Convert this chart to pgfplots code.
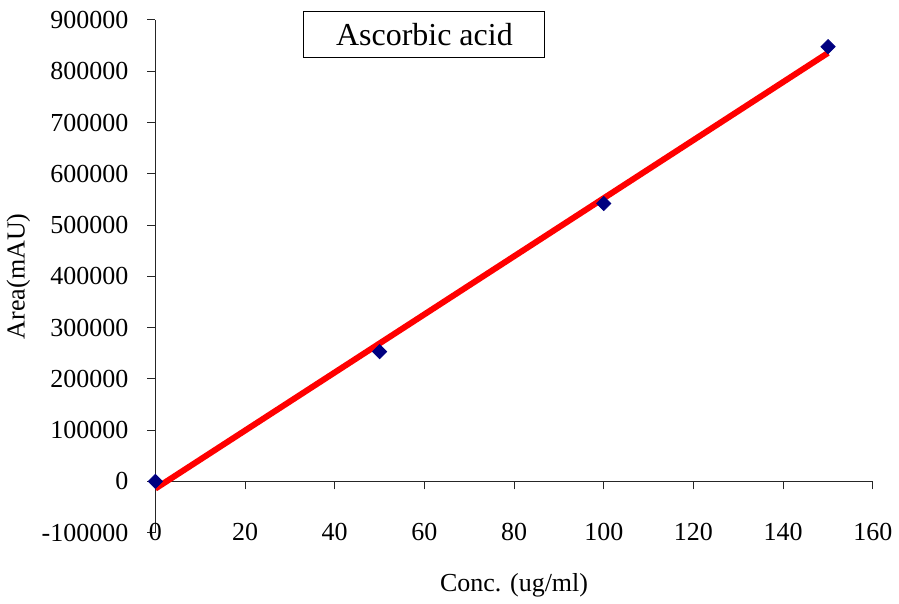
\documentclass[border=0pt]{standalone}
\usepackage{fontspec}
\setmainfont{Liberation Serif}
\usepackage{pgfplots}
\pgfplotsset{compat=1.18}
\definecolor{marknavy}{RGB}{0,0,128}
\definecolor{trendred}{RGB}{255,0,0}

\begin{document}
\begin{tikzpicture}
\begin{axis}[
    scale only axis,
    width=359pt, height=256.5pt,
    xmin=0, xmax=160,
    ymin=-100000, ymax=900000,
    xtick={0,20,40,60,80,100,120,140,160},
    xticklabels={0,20,40,60,80,100,120,140,160},
    ytick={-100000,0,100000,200000,300000,400000,500000,600000,700000,800000,900000},
    yticklabels={-100000,0,100000,200000,300000,400000,500000,600000,700000,800000,900000},
    axis x line=middle,
    axis y line=left,
    hide obscured x ticks=false,
    hide obscured y ticks=false,
    axis line style={-, line width=0.5pt, black!85},
    tick style={line width=0.5pt, black!85},
    tick align=outside,
    major tick length=4pt,
    scaled y ticks=false,
    every tick label/.append style={font=\fontsize{13}{15}\selectfont},
    xticklabel style={anchor=center, yshift=-21.5pt},
    yticklabel style={anchor=east, xshift=-6pt},
    xlabel={Conc. (ug/ml)},
    ylabel={Area(mAU)},
    label style={font=\fontsize{13}{15}\selectfont},
    xlabel style={at={(rel axis cs:0.5,0)}, anchor=north, yshift=-17pt},
    ylabel style={at={(rel axis cs:0,0.5)}, anchor=center, rotate=0, yshift=68.5pt},
    clip=false,
]
% trend line
\addplot[trendred, line width=3pt, mark=none] coordinates {(0,-14200)(150,835700)};
% measured points
\addplot[only marks, mark=square*, mark size=2.5pt, color=marknavy,
    mark options={rotate=45, fill=marknavy}] coordinates {
    (0,0)(50,253000)(100,542000)(150,848000)};
\node[draw=black, line width=0.5pt, fill=white, minimum width=120.5pt, minimum height=23pt,
    font=\fontsize{16}{18}\selectfont, inner sep=0pt] at (rel axis cs:0.375,0.971) {Ascorbic acid};
\end{axis}
% room above the plot, as in the original
\path ([yshift=10pt]current axis.north);
\end{tikzpicture}
\end{document}
